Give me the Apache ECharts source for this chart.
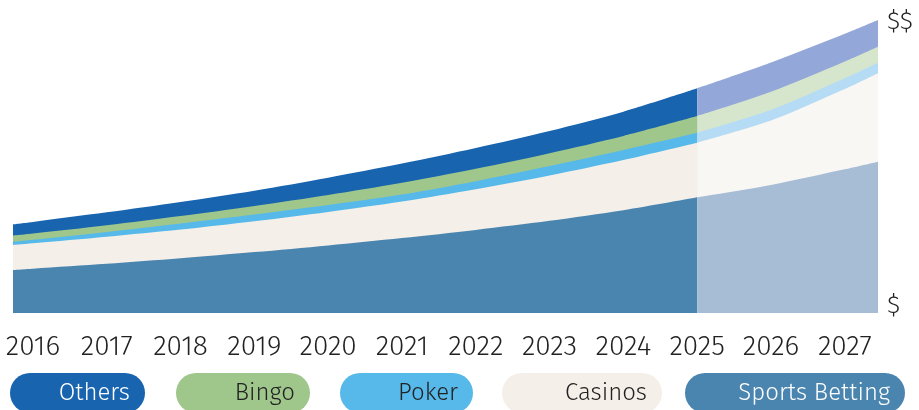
<!DOCTYPE html>
<html>
<head>
<meta charset="utf-8">
<script src="https://cdn.jsdelivr.net/npm/echarts@6/dist/echarts.min.js"></script>
<style>
html,body{margin:0;padding:0;background:#fff;}
#main{width:919px;height:410px;}
</style>
</head>
<body>
<div id="main"></div>
<script>
// x positions of samples (years; first/last are the visible edges of the area)
const xs = [2015.73, 2016, 2017, 2018, 2019, 2020, 2021, 2022, 2023, 2024, 2025, 2026, 2027, 2027.45];
const yearLabels = [2016, 2017, 2018, 2019, 2020, 2021, 2022, 2023, 2024, 2025, 2026, 2027];
const forecastStart = 2025;

// layer values (bottom to top of the stack)
const sportsBetting = [43, 44.3, 49.2, 54.7, 60.9, 67.6, 75, 83.1, 92.2, 102.8, 115.7, 128.1, 143.7, 151.3];
const casinos       = [25, 25.4, 27.1, 28.8, 30.9, 33.5, 36.5, 40.7, 45.4, 50.2, 54.6, 64.3, 80.2, 88.4];
const poker         = [3.3, 3.6, 4.8, 6.1, 6.7, 6.9, 7, 8, 9.3, 10, 10, 10.8, 10.9, 10.6];
const bingo         = [6, 6.1, 6.6, 7.3, 8.5, 10, 11.7, 12.4, 12.9, 14.1, 16.7, 18, 16.7, 16];
const others        = [11.4, 11.7, 13, 14.1, 15.3, 17.3, 19.2, 20.8, 22.2, 24.2, 27.7, 29.3, 27.7, 26.7];

const yTickValues = [7, 290.5];
const yTickLabels = ['$', '$$'];

const seriesDefs = [
  {name: 'Sports Betting', data: sportsBetting, color: '#4a85b0', light: '#a7bdd6', text: '#ffffff'},
  {name: 'Casinos', data: casinos, color: '#f4efe8', light: '#f9f7f3', text: '#222222'},
  {name: 'Poker', data: poker, color: '#56b9ea', light: '#b6dcf5', text: '#222222'},
  {name: 'Bingo', data: bingo, color: '#9fc78c', light: '#d6e6cc', text: '#222222'},
  {name: 'Others', data: others, color: '#1864ae', light: '#93a8d8', text: '#ffffff'}
];

const FONT = '"Fira Sans", "Open Sans", "Noto Sans", sans-serif';

const chart = echarts.init(document.getElementById('main'), null, {renderer: 'canvas'});

// running totals (stack), computed from the layer values
const cumulative = [];
seriesDefs.forEach((s, k) => {
  cumulative.push(s.data.map((v, i) => (k ? cumulative[k - 1][i] : 0) + v));
});

function makeSeries(k, part) {
  const s = seriesDefs[k];
  const pts = cumulative[k].map((v, i) => [xs[i], v]).filter(p =>
    part === 'actual' ? p[0] <= forecastStart : p[0] >= forecastStart);
  const c = part === 'actual' ? s.color : s.light;
  return {
    name: s.name,
    type: 'line',
    smooth: 0.3,
    showSymbol: false,
    lineStyle: {width: 0},
    itemStyle: {color: c},
    areaStyle: {opacity: 1, color: c, origin: 'start'},
    silent: true,
    data: pts
  };
}
// draw the top layer first so lower layers cover it
const series = [];
for (let k = seriesDefs.length - 1; k >= 0; k--) {
  series.push(makeSeries(k, 'actual'));
  series.push(makeSeries(k, 'forecast'));
}

// legend pills (top to bottom order of the stack)
const legendOrder = seriesDefs.slice().reverse();
const pillBoxes = [
  {x: 10, w: 135}, {x: 176, w: 134}, {x: 340, w: 133}, {x: 502, w: 160}, {x: 685, w: 220}
];
const graphics = [];
legendOrder.forEach((s, i) => {
  const b = pillBoxes[i];
  graphics.push({
    type: 'rect',
    shape: {x: b.x, y: 373, width: b.w, height: 40, r: 20},
    style: {fill: s.color}
  });
  graphics.push({
    type: 'text',
    x: b.x + b.w - 15,
    y: 393,
    style: {
      text: s.name,
      fill: s.text,
      font: '300 24px ' + FONT,
      align: 'right',
      verticalAlign: 'middle'
    }
  });
});

chart.setOption({
  animation: false,
  grid: {left: 13, right: 41, top: 13, bottom: 97, containLabel: false},
  xAxis: {
    type: 'value',
    min: 2015.73,
    max: 2027.45,
    axisLine: {show: false},
    axisTick: {show: false},
    splitLine: {show: false},
    axisLabel: {
      customValues: yearLabels,
      formatter: v => String(Math.round(v)),
      fontSize: 28,
      fontWeight: 300,
      fontFamily: FONT,
      color: '#222',
      margin: 20
    }
  },
  yAxis: {
    type: 'value',
    position: 'right',
    min: 0,
    max: 300,
    axisLine: {show: false},
    axisTick: {show: false},
    splitLine: {show: false},
    axisLabel: {
      customValues: yTickValues,
      formatter: v => yTickLabels[yTickValues.indexOf(v)],
      fontSize: 25,
      fontWeight: 300,
      fontFamily: FONT,
      color: '#222',
      margin: 9
    }
  },
  series: series,
  graphic: graphics
});
</script>
</body>
</html>
